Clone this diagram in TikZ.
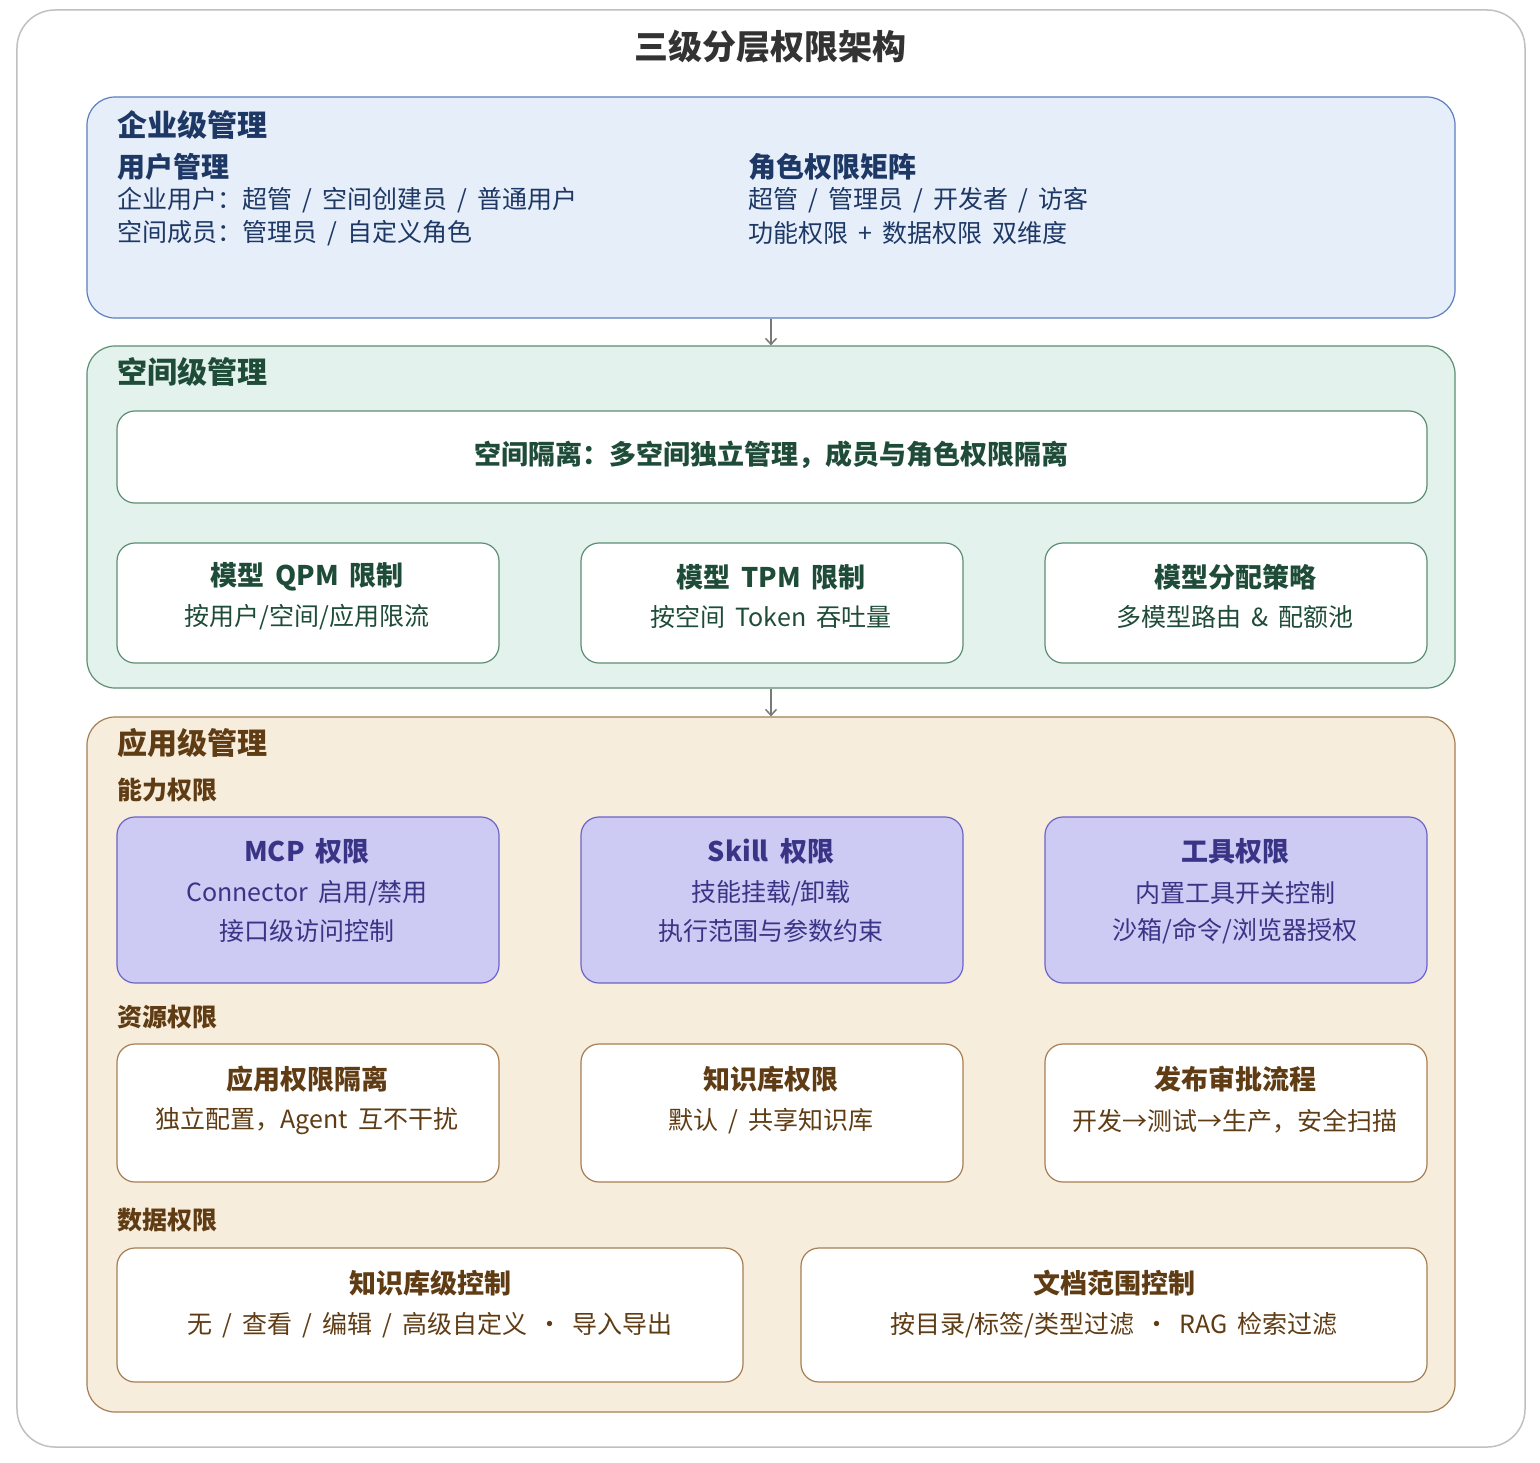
\documentclass[tikz,border=0pt]{standalone}
\usepackage{fontspec}
\setmainfont[WordSpace=1.8]{Noto Sans CJK SC}
\usepackage{xcolor}
\usetikzlibrary{arrows.meta, positioning}

\definecolor{framegray}{RGB}{192,192,192}
\definecolor{titlegray}{RGB}{51,51,51}
\definecolor{arrowgray}{RGB}{120,120,120}
\definecolor{entfill}{RGB}{230,238,249}
\definecolor{entline}{RGB}{92,126,192}
\definecolor{enttext}{RGB}{30,56,102}
\definecolor{spcfill}{RGB}{227,242,236}
\definecolor{spcline}{RGB}{92,142,116}
\definecolor{spctext}{RGB}{30,76,56}
\definecolor{appfill}{RGB}{247,237,220}
\definecolor{appline}{RGB}{166,126,82}
\definecolor{apptext}{RGB}{96,60,20}
\definecolor{capfill}{RGB}{205,203,243}
\definecolor{capline}{RGB}{108,100,200}
\definecolor{captext}{RGB}{58,52,134}

\begin{document}
\begin{tikzpicture}[x=1bp, y=-1bp,
    frame/.style={rectangle, rounded corners=38bp, draw=framegray, line width=1.5bp,
      fill=white, inner sep=0pt, minimum width=1508bp, minimum height=1437bp},
    panel/.style={rectangle, rounded corners=28bp, draw, line width=1.2bp,
      inner sep=0pt, minimum width=1368bp},
    card/.style={rectangle, rounded corners=18bp, draw, line width=1.2bp,
      fill=white, inner sep=0pt, minimum width=382bp},
    lvltitle/.style={anchor=west, inner sep=0pt, font=\fontsize{30bp}{34bp}\selectfont\bfseries},
    grouptitle/.style={anchor=west, inner sep=0pt, font=\fontsize{25bp}{29bp}\selectfont\bfseries},
    bodytext/.style={anchor=west, inner sep=0pt, font=\fontsize{25bp}{29bp}\selectfont},
    cardtitle/.style={inner sep=0pt, font=\fontsize{27bp}{31bp}\selectfont\bfseries},
    cardtext/.style={inner sep=0pt, font=\fontsize{25bp}{29bp}\selectfont},
    arrow/.style={draw=arrowgray, line width=1.5bp, -{Straight Barb[length=6bp, width=11bp]}}
]
\useasboundingbox (0,0) rectangle (1540,1463);
\node[frame] (frame) at (771,728.5) {};
\node[inner sep=0pt, text=titlegray, font=\fontsize{34bp}{38bp}\selectfont\bfseries]
  (title) at (770,47) {三级分层权限架构};

% enterprise level
\node[panel, fill=entfill, draw=entline, minimum height=221bp] (ent) at (771,207.5) {};
\node[lvltitle, text=enttext] (entT) at (117,125) {企业级管理};
\node[grouptitle, text=enttext, font=\fontsize{28bp}{32bp}\selectfont\bfseries] (userT) at (117,167) {用户管理};
\node[bodytext, text=enttext] (user1) at (117,200) {企业用户：超管 / 空间创建员 / 普通用户};
\node[bodytext, text=enttext] (user2) at (117,233) {空间成员：管理员 / 自定义角色};
\node[grouptitle, text=enttext, font=\fontsize{28bp}{32bp}\selectfont\bfseries] (roleT) at (748,167) {角色权限矩阵};
\node[bodytext, text=enttext] (role1) at (748,200) {超管 / 管理员 / 开发者 / 访客};
\node[bodytext, text=enttext] (role2) at (748,233) {功能权限 + 数据权限 双维度};

% space level
\node[panel, fill=spcfill, draw=spcline, minimum height=342bp] (spc) at (771,517) {};
\node[lvltitle, text=spctext] (spcT) at (117,372) {空间级管理};
\node[card, draw=spcline, minimum width=1310bp, minimum height=92bp] (iso) at (772,457) {};
\node[cardtitle, text=spctext] (isoT) at (771,455) {空间隔离：多空间独立管理，成员与角色权限隔离};
\node[card, draw=spcline, minimum height=120bp] (qpm) at (308,603) {};
\node[card, draw=spcline, minimum height=120bp] (tpm) at (772,603) {};
\node[card, draw=spcline, minimum height=120bp] (alloc) at (1236,603) {};
\node[cardtitle, text=spctext] (qpmT) at (307,577) {模型 QPM 限制};
\node[cardtext, text=spctext] (qpmA) at (307,617) {按用户/空间/应用限流};
\node[cardtitle, text=spctext] (tpmT) at (771,577) {模型 TPM 限制};
\node[cardtext, text=spctext] (tpmA) at (771,617) {按空间 Token 吞吐量};
\node[cardtitle, text=spctext] (allocT) at (1235,577) {模型分配策略};
\node[cardtext, text=spctext] (allocA) at (1235,617) {多模型路由 \& 配额池};

% application level
\node[panel, fill=appfill, draw=appline, minimum height=695bp] (app) at (771,1064.5) {};
\node[lvltitle, text=apptext] (appT) at (117,743) {应用级管理};

\node[grouptitle, text=apptext] (capT) at (117,790) {能力权限};
\node[card, fill=capfill, draw=capline, minimum height=166bp] (mcp) at (308,900) {};
\node[card, fill=capfill, draw=capline, minimum height=166bp] (skill) at (772,900) {};
\node[card, fill=capfill, draw=capline, minimum height=166bp] (tool) at (1236,900) {};
\node[cardtitle, text=captext] (mcpT) at (307,851) {MCP 权限};
\node[cardtext, text=captext] (mcpA) at (307,893) {Connector 启用/禁用};
\node[cardtext, text=captext] (mcpB) at (307,931) {接口级访问控制};
\node[cardtitle, text=captext] (skillT) at (771,851) {Skill 权限};
\node[cardtext, text=captext] (skillA) at (771,893) {技能挂载/卸载};
\node[cardtext, text=captext] (skillB) at (771,931) {执行范围与参数约束};
\node[cardtitle, text=captext] (toolT) at (1235,851) {工具权限};
\node[cardtext, text=captext] (toolA) at (1235,893) {内置工具开关控制};
\node[cardtext, text=captext] (toolB) at (1235,931) {沙箱/命令/浏览器授权};

\node[grouptitle, text=apptext] (resT) at (117,1017) {资源权限};
\node[card, draw=appline, minimum height=138bp] (appiso) at (308,1113) {};
\node[card, draw=appline, minimum height=138bp] (kb) at (772,1113) {};
\node[card, draw=appline, minimum height=138bp] (release) at (1236,1113) {};
\node[cardtitle, text=apptext] (appisoT) at (307,1079) {应用权限隔离};
\node[cardtext, text=apptext] (appisoA) at (307,1121) {独立配置，Agent 互不干扰};
\node[cardtitle, text=apptext] (kbT) at (771,1079) {知识库权限};
\node[cardtext, text=apptext] (kbA) at (771,1121) {默认 / 共享知识库};
\node[cardtitle, text=apptext] (releaseT) at (1235,1079) {发布审批流程};
\node[cardtext, text=apptext] (releaseA) at (1235,1121) {开发→测试→生产，安全扫描};

\node[grouptitle, text=apptext] (dataT) at (117,1220) {数据权限};
\node[card, draw=appline, minimum width=626bp, minimum height=134bp] (kbctl) at (430,1315) {};
\node[card, draw=appline, minimum width=626bp, minimum height=134bp] (docctl) at (1114,1315) {};
\node[cardtitle, text=apptext] (kbctlT) at (430,1283) {知识库级控制};
\node[cardtext, text=apptext] (kbctlA) at (430,1325) {无 / 查看 / 编辑 / 高级自定义 · 导入导出};
\node[cardtitle, text=apptext] (docctlT) at (1114,1283) {文档范围控制};
\node[cardtext, text=apptext] (docctlA) at (1114,1325) {按目录/标签/类型过滤 · RAG 检索过滤};

\draw[arrow] (ent.south) -- (spc.north);
\draw[arrow] (spc.south) -- (app.north);
\end{tikzpicture}
\end{document}
